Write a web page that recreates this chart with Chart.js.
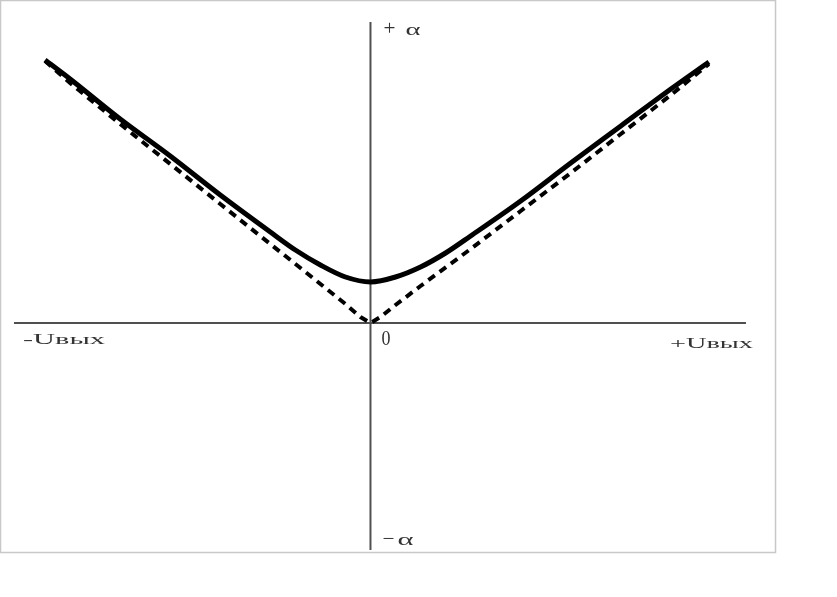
<!DOCTYPE html>
<html>
<head>
<meta charset="utf-8">
<script src="https://cdn.jsdelivr.net/npm/chart.js@4/dist/chart.umd.min.js"></script>
<style>
  html, body { margin: 0; padding: 0; background: #fff; }
  #graphique { display: block; }
</style>
</head>
<body>
<canvas id="graphique" width="837" height="597"></canvas>
<script>
// Uвых (abscisses) et alpha
const uSolide = [-32.5, -30, -25, -20, -15, -10, -7.5, -5, -2.5, 0, 2.5, 5, 7.5, 10, 15, 20, 25, 30, 33.8];
const alphaSolide = [26.3, 24.4, 20.4, 16.7, 12.8, 9.1, 7.3, 5.8, 4.6, 4.1, 4.6, 5.6, 7.0, 8.7, 12.2, 16.0, 19.7, 23.4, 26.1];

const uTirets = [-32.5, -30, -25, -20, -15, -10, -5, -2.5, -1, 0, 1, 2.5, 5, 10, 15, 20, 25, 30, 33.8];
const alphaTirets = [26.2, 24.0, 19.9, 15.9, 11.9, 7.9, 3.9, 1.9, 0.6, 0, 0.6, 1.8, 3.7, 7.4, 11.2, 15.0, 18.9, 22.8, 25.9];

const etiquettes = { plus: "+", moins: "−", alpha: "α", moinsU: "-Uвых", plusU: "+Uвых", zero: "0" };

const pts = (xs, ys) => xs.map((x, i) => ({ x: x, y: ys[i] }));

// texte étiré en largeur comme dans l'original
function texte(ctx, txt, gauche, base, largeur, taille) {
  ctx.save();
  ctx.font = taille + "px 'Liberation Serif', serif";
  const w = ctx.measureText(txt).width;
  ctx.translate(gauche, base);
  ctx.scale(largeur / w, 1);
  ctx.fillText(txt, 0, 0);
  ctx.restore();
}

const axes = {
  id: "axes",
  beforeDatasetsDraw(chart) {
    const { ctx, chartArea: a, scales: { x, y } } = chart;
    const x0 = x.getPixelForValue(0), y0 = y.getPixelForValue(0);
    ctx.save();
    // cadre
    ctx.strokeStyle = "#c8c8c8";
    ctx.lineWidth = 1.5;
    ctx.strokeRect(a.left + 0.5, a.top + 0.5, a.right - a.left, a.bottom - a.top);
    // axes
    ctx.strokeStyle = "#505050";
    ctx.lineWidth = 2;
    ctx.beginPath();
    ctx.moveTo(x0, y.getPixelForValue(30.1));
    ctx.lineTo(x0, y.getPixelForValue(-22.7));
    ctx.moveTo(x.getPixelForValue(-35.6), y0);
    ctx.lineTo(x.getPixelForValue(37.5), y0);
    ctx.stroke();
    // textes
    ctx.fillStyle = "#333";
    ctx.textBaseline = "alphabetic";
    texte(ctx, etiquettes.plus, x0 + 13, 35, 12, 20);
    texte(ctx, etiquettes.alpha, x0 + 35, 35, 15, 16);
    texte(ctx, etiquettes.moins, x0 + 12, 545, 12, 20);
    texte(ctx, etiquettes.alpha, x0 + 27, 545, 16, 16);
    texte(ctx, etiquettes.zero, x0 + 11, y0 + 22, 9, 20);
    texte(ctx, etiquettes.moinsU, 23, y0 + 21, 82, 14);
    texte(ctx, etiquettes.plusU, 670, y0 + 25, 83, 14);
    ctx.restore();
  }
};

new Chart(document.getElementById("graphique").getContext("2d"), {
  type: "scatter",
  data: {
    datasets: [
      {
        data: pts(uTirets, alphaTirets),
        showLine: true,
        borderColor: "#000",
        borderWidth: 4,
        borderDash: [8, 6],
        pointRadius: 0,
        tension: 0
      },
      {
        data: pts(uSolide, alphaSolide),
        showLine: true,
        borderColor: "#000",
        borderWidth: 5,
        pointRadius: 0,
        cubicInterpolationMode: "monotone"
      }
    ]
  },
  options: {
    responsive: false,
    animation: false,
    layout: { padding: { left: 0, top: 0, right: 62, bottom: 45 } },
    plugins: { legend: { display: false }, tooltip: { enabled: false } },
    scales: {
      x: { type: "linear", display: false, min: -37, max: 40.4 },
      y: { type: "linear", display: false, min: -22.9, max: 32.3 }
    }
  },
  plugins: [axes]
});
</script>
</body>
</html>
